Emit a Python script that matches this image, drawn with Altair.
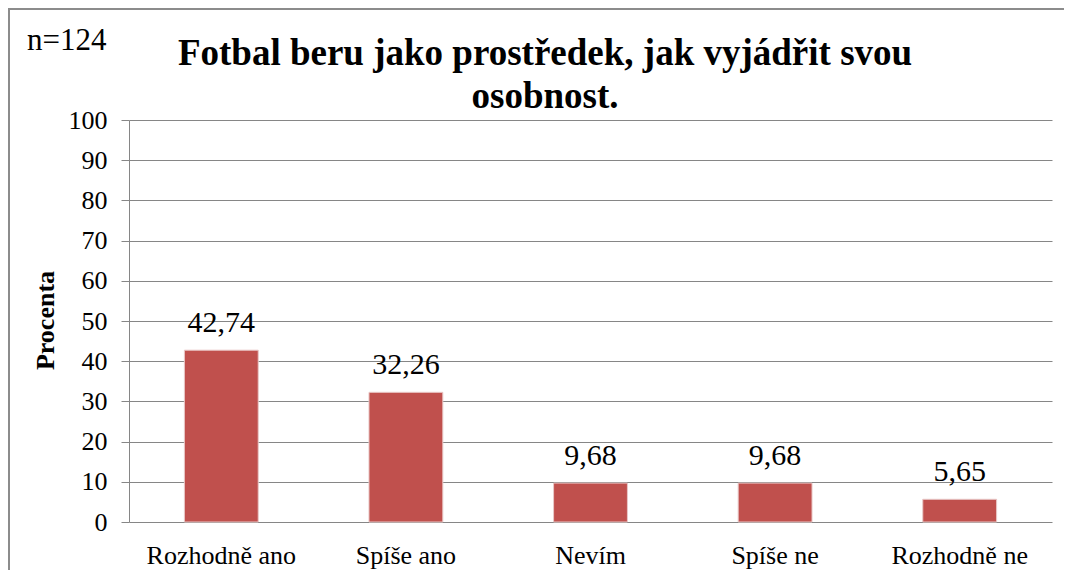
import altair as alt
import pandas as pd

categories = ["Rozhodně ano", "Spíše ano", "Nevím", "Spíše ne", "Rozhodně ne"]
values = [42.74, 32.26, 9.68, 9.68, 5.65]
labels = ["42,74", "32,26", "9,68", "9,68", "5,65"]
title_lines = ["Fotbal beru jako prostředek, jak vyjádřit svou", "osobnost."]
n_text = "n=124"
y_title = "Procenta"

df = pd.DataFrame({"kat": categories, "val": values, "lab": labels})

FONT = "'Liberation Serif', 'Times New Roman', Times, serif"
GRID = "#868686"
BORDER = "#8c8c8c"

x_enc = alt.X("kat:N", sort=categories, title=None,
              scale=alt.Scale(paddingInner=0.6, paddingOuter=0.3),
              axis=alt.Axis(labelAngle=0, labelFont=FONT, labelFontSize=26, labelColor="black",
                            ticks=False, tickSize=0, labelPadding=41, labelBaseline="alphabetic",
                            domain=False, grid=False))
y_enc = alt.Y("val:Q", title=y_title,
              scale=alt.Scale(domain=[0, 100], nice=False),
              axis=alt.Axis(values=list(range(0, 101, 10)), labelFont=FONT, labelFontSize=26,
                            labelColor="black", tickSize=8, tickColor=GRID, labelPadding=14,
                            domainColor=GRID, gridColor=GRID, grid=True,
                            titleFont=FONT, titleFontSize=26, titleFontWeight="bold",
                            titleColor="black", titleAngle=-90, titleX=-84, titleY=200,
                            titleAlign="center", titleBaseline="middle"))

bars = alt.Chart(df).mark_bar(color="#C0504D", stroke="#e9c9c8", strokeWidth=1).encode(
    x=x_enc, y=y_enc)

text = alt.Chart(df).mark_text(font=FONT, fontSize=30, color="black", baseline="alphabetic",
                               dy=-18).encode(
    x=alt.X("kat:N", sort=categories), y="val:Q", text="lab:N")

ntext = alt.Chart(pd.DataFrame({"t": [n_text]})).mark_text(
    font=FONT, fontSize=31, color="black", align="left", baseline="alphabetic").encode(
    x=alt.value(-102), y=alt.value(-70), text="t:N")

ttext = alt.Chart(pd.DataFrame({"t": ["\n".join(title_lines)]})).mark_text(
    font=FONT, fontSize=37, fontWeight="bold", color="black", align="center",
    baseline="alphabetic", lineBreak="\n", lineHeight=43).encode(
    x=alt.value(416), y=alt.value(-55), text="t:N")

one = pd.DataFrame({"a": [0]})
border_top = alt.Chart(one).mark_rule(color=BORDER, strokeWidth=2).encode(
    x=alt.value(-121), x2=alt.value(940), y=alt.value(-111))
border_left = alt.Chart(one).mark_rule(color=BORDER, strokeWidth=2).encode(
    x=alt.value(-120), y=alt.value(-112), y2=alt.value(520))

chart = alt.layer(border_top, border_left, bars, text, ntext, ttext).properties(
    width=923, height=402,
    padding={"left": 121, "top": 112, "right": 12, "bottom": 48},
    autosize=alt.AutoSizeParams(type="none"),
).configure_view(stroke=None).configure_axis(domainWidth=1, gridWidth=1)

chart.save("out.html", embed_options={"renderer": "svg", "actions": False})
